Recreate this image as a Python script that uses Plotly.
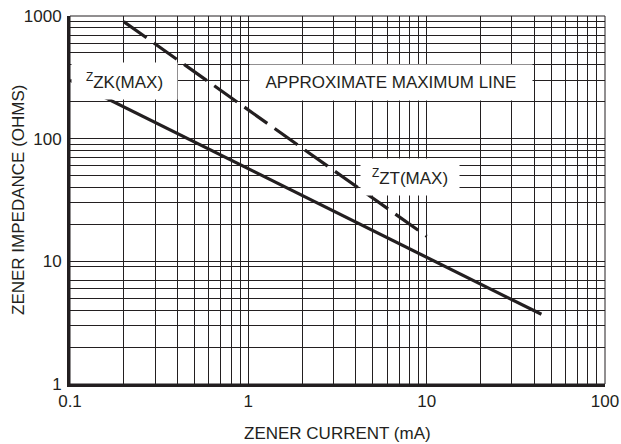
import plotly.graph_objects as go

# ---- data ----
current_zk = [0.1, 44]          # mA
impedance_zk = [300, 3.7]       # ohms  (Z_ZK(MAX), solid)
current_zt = [0.2, 10]          # mA
impedance_zt = [900, 16]        # ohms  (Z_ZT(MAX), dashed)

x_major = [0.1, 1, 10, 100]
x_major_labels = ["0.1", "1", "10", "100"]
x_minor = [0.2, 0.3, 0.4, 0.5, 0.6, 0.7, 0.8, 0.9,
           2, 3, 4, 5, 6, 7, 8, 9,
           20, 30, 40, 50, 60, 70, 80, 90]
y_major = [1, 10, 100, 1000]
y_major_labels = ["1", "10", "100", "1000"]
y_minor = [2, 3, 4, 5, 6, 7, 9,
           20, 30, 40, 50, 60, 70, 80, 90,
           200, 300, 400, 500, 600, 700, 800, 900]

FONT = "Liberation Sans, Arial, sans-serif"
INK = "#231f20"
FS = 17

fig = go.Figure()
fig.add_trace(go.Scatter(x=current_zk, y=impedance_zk, mode="lines",
                         line=dict(color=INK, width=3.2), hoverinfo="skip"))
fig.add_trace(go.Scatter(x=current_zt, y=impedance_zt, mode="lines",
                         line=dict(color=INK, width=3.2, dash="28px,9px"),
                         hoverinfo="skip"))

fig.update_layout(
    width=621, height=444, autosize=False,
    margin=dict(l=70, r=16, t=16, b=60, autoexpand=False),
    plot_bgcolor="white", paper_bgcolor="white",
    showlegend=False,
    font=dict(family=FONT, size=FS, color=INK),
)
grid = dict(showgrid=True, gridcolor=INK, gridwidth=1)
fig.update_xaxes(
    type="log", range=[-1, 2],
    tickmode="array", tickvals=x_major, ticktext=x_major_labels,
    minor=dict(tickmode="array", tickvals=x_minor, ticks="", **grid),
    showline=True, linecolor=INK, linewidth=3,
    ticks="", zeroline=False, ticklabelstandoff=0, **grid,
)
fig.update_yaxes(
    type="log", range=[0, 3],
    tickmode="array", tickvals=y_major, ticktext=y_major_labels,
    minor=dict(tickmode="array", tickvals=y_minor, ticks="", **grid),
    showline=True, linecolor=INK, linewidth=3,
    ticks="", zeroline=False, ticklabelstandoff=2, **grid,
)

# thin border on top / right
fig.add_shape(type="rect", xref="paper", yref="paper", x0=0, x1=1, y0=0, y1=1,
              line=dict(color=INK, width=1), layer="above")

# labels with white boxes
fig.add_annotation(x=-0.692, y=2.469, xref="x", yref="y",
                   text="<sup>Z</sup>ZK(MAX)", showarrow=False,
                   width=105, height=36, borderpad=0, align="center",
                   valign="middle", bgcolor="white", font=dict(size=FS))
fig.add_annotation(x=0.800, y=2.457, xref="x", yref="y",
                   text="APPROXIMATE MAXIMUM LINE", showarrow=False,
                   width=282, height=35, borderpad=0, align="center",
                   valign="middle", bgcolor="white", font=dict(size=FS))
fig.add_annotation(x=0.907, y=1.687, xref="x", yref="y",
                   text="<sup>Z</sup>ZT(MAX)", showarrow=False,
                   width=98, height=36, borderpad=0, align="center",
                   valign="middle", bgcolor="white", font=dict(size=FS))

# axis titles
fig.add_annotation(xref="paper", yref="paper", x=0.5, y=0, yanchor="middle",
                   yshift=-49, text="ZENER CURRENT (mA)", showarrow=False,
                   font=dict(size=FS))
fig.add_annotation(xref="paper", yref="paper", x=0, y=0.5, xanchor="center",
                   xshift=-52, textangle=-90, text="ZENER IMPEDANCE (OHMS)",
                   showarrow=False, font=dict(size=FS))

fig.write_html("out.html",
               config={"displayModeBar": False, "staticPlot": True},
               post_script="document.body.style.margin='0';"
                           "document.body.style.overflow='hidden';")
